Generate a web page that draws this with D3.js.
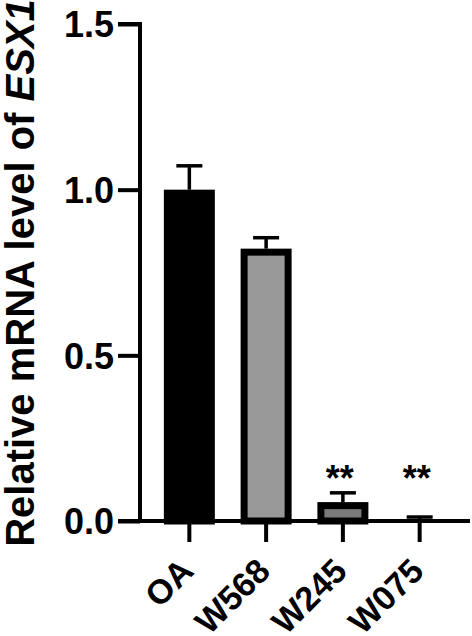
<!DOCTYPE html>
<html>
<head>
<meta charset="utf-8">
<script src="https://cdn.jsdelivr.net/npm/d3@7"></script>
<style>
  html, body { margin: 0; padding: 0; background: #fff; }
  text { font-family: "Liberation Sans", Arial, sans-serif; font-weight: bold; }
</style>
</head>
<body>
<div id="chart"></div>
<script>
// data
var groups = ["OA", "W568", "W245", "W075"];
var means = [1.0, 0.822, 0.057, 0.004];
var errors = [0.072, 0.033, 0.028, 0.008];
var stars = ["", "", "**", "**"];
var fills = ["#000000", "#999999", "#7a7a7a", "#7a7a7a"];
var yTicks = [0, 0.5, 1.0, 1.5];

var width = 472, height = 636;

var svg = d3.select("#chart").append("svg")
  .attr("width", width)
  .attr("height", height)
  .style("display", "block");

svg.append("rect").attr("width", width).attr("height", height).attr("fill", "#fff");

// scales
var axisX = 140, axisY = 521;
var y = d3.scaleLinear().domain([0, 1.5]).range([axisY, 24]);
var x = d3.scaleBand().domain(groups).range([151, 458]).paddingInner(0.335).paddingOuter(0.167);

var barOuter = 51, border = 7;

// bars
var bars = svg.append("g");
bars.selectAll("rect")
  .data(groups)
  .join("rect")
  .attr("x", function (d) { return x(d) + x.bandwidth() / 2 - barOuter / 2 + border / 2; })
  .attr("width", barOuter - border)
  .attr("y", function (d, i) { return y(means[i]) + border / 2; })
  .attr("height", function (d, i) { return Math.max(0, axisY - y(means[i]) - border / 2); })
  .attr("fill", function (d, i) { return fills[i]; })
  .attr("stroke", "#000")
  .attr("stroke-width", function (d, i) { return axisY - y(means[i]) > border ? border : 0; });

// error bars (upper only)
var err = svg.append("g").attr("stroke", "#000").attr("stroke-width", 3.5);
groups.forEach(function (g, i) {
  var cx = x(g) + x.bandwidth() / 2;
  err.append("line")
    .attr("x1", cx).attr("x2", cx)
    .attr("y1", y(means[i])).attr("y2", y(means[i] + errors[i]));
  err.append("line")
    .attr("x1", cx - 13).attr("x2", cx + 13)
    .attr("y1", y(means[i] + errors[i])).attr("y2", y(means[i] + errors[i]));
});

// significance stars
svg.append("g").selectAll("text")
  .data(groups)
  .join("text")
  .attr("x", function (d) { return x(d) + x.bandwidth() / 2 - 3; })
  .attr("y", y(0.09))
  .attr("text-anchor", "middle")
  .attr("font-size", 36)
  .text(function (d, i) { return stars[i]; });

// y axis
var yAxis = svg.append("g")
  .attr("transform", "translate(" + axisX + ",0)")
  .call(d3.axisLeft(y).tickValues(yTicks).tickFormat(d3.format(".1f")).tickSize(22).tickPadding(4));
yAxis.select(".domain").attr("stroke-width", 4).attr("d", "M-22," + y(1.5) + "H0V" + axisY);
yAxis.selectAll(".tick line").attr("stroke-width", 4);
yAxis.selectAll(".tick text").attr("font-size", 36).attr("fill", "#000").attr("dy", "0.36em");

// x axis
var xAxis = svg.append("g")
  .attr("transform", "translate(0," + axisY + ")")
  .call(d3.axisBottom(x).tickSize(21).tickSizeOuter(0));
xAxis.select(".domain").attr("stroke-width", 4).attr("d", "M" + (axisX - 22) + ",0H470");
xAxis.selectAll(".tick line").attr("stroke-width", 4);
xAxis.selectAll(".tick text")
  .attr("font-size", 34)
  .attr("fill", "#000")
  .attr("text-anchor", "end")
  .attr("dy", 0)
  .attr("y", 0)
  .attr("transform", "translate(6,52) rotate(-45)");

// y axis title
var title = svg.append("text")
  .attr("transform", "translate(34,273) rotate(-90)")
  .attr("text-anchor", "middle")
  .attr("font-size", 40);
title.append("tspan").text("Relative mRNA level of ");
title.append("tspan").attr("font-style", "italic").text("ESX1");
</script>
</body>
</html>
